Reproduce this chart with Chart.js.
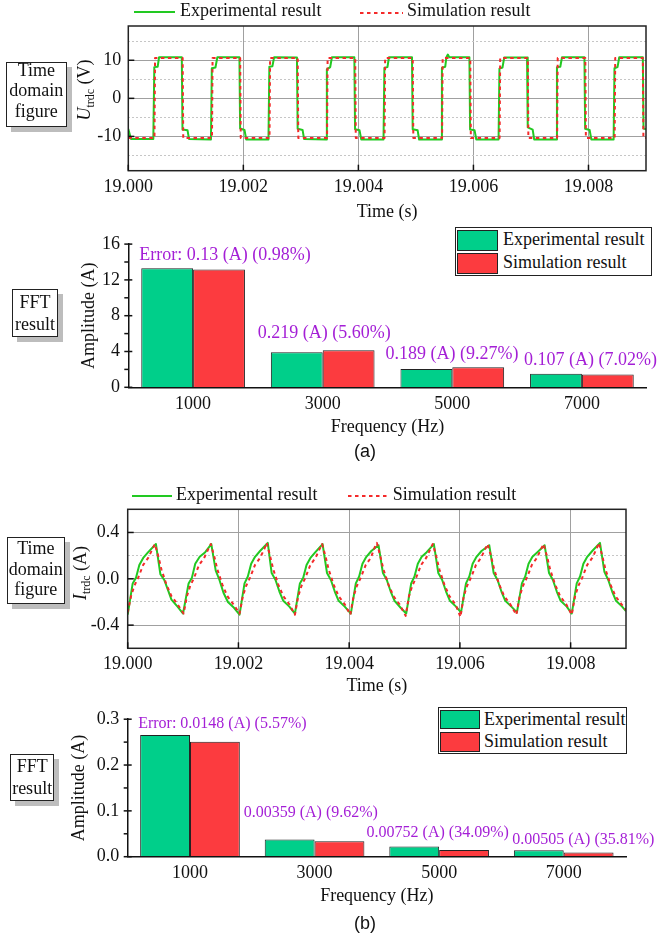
<!DOCTYPE html>
<html>
<head>
<meta charset="utf-8">
<script src="https://cdn.jsdelivr.net/npm/chart.js@4.4.1/dist/chart.umd.min.js"></script>
<style>
  html, body { margin: 0; padding: 0; background: #fff; }
  #page { position: relative; width: 659px; height: 938px; overflow: hidden;
          font-family: "Liberation Serif", "Times New Roman", serif; font-size: 18px; color: #111; }
  canvas { position: absolute; left: 0; }
  .abs { position: absolute; white-space: nowrap; line-height: 20px; }
  .box { position: absolute; box-sizing: border-box; border: 1px solid #222; background: #fff;
         box-shadow: 5px 5px 0 #bdbdbd; text-align: center; }
  .ytitle { position: absolute; white-space: nowrap; line-height: 18px;
            transform: translate(-50%, -50%) rotate(-90deg); }
  .ytitle sub { font-size: 12px; vertical-align: baseline; position: relative; top: 4px; line-height: 0; }
  .leg { position: absolute; box-sizing: border-box; border: 1px solid #222; background: #fff; }
  .sw { position: absolute; box-sizing: border-box; border: 1px solid #222; }
  .tag { position: absolute; font-family: "Liberation Sans", Arial, sans-serif; font-size: 18px;
         line-height: 20px; width: 60px; text-align: center; }
</style>
</head>
<body>
<div id="page">
  <canvas id="cvA" width="659" height="225" style="top:0px"></canvas>
  <canvas id="cvB" width="659" height="225" style="top:225px"></canvas>
  <canvas id="cvC" width="659" height="230" style="top:470px"></canvas>
  <canvas id="cvD" width="659" height="215" style="top:700px"></canvas>
</div>
<script>
const seriesNames = ['Experimental result', 'Simulation result'];
const timeTickLabels = ['19.000', '19.002', '19.004', '19.006', '19.008'];
const voltTickLabels = ['-10', '0', '10'];
const currTickLabels = ['-0.4', '0.0', '0.4'];
const freqLabels = ['1000', '3000', '5000', '7000'];
const ampTickLabelsA = ['0', '4', '8', '12', '16'];
const ampTickLabelsB = ['0.0', '0.1', '0.2', '0.3'];

// (a) U_trdc, time in ms after 19.000 s
const expVTime = [0, 0.047,
  0.435, 0.452, 0.51, 0.535, 0.93, 0.942, 1.03, 1.056,
  1.437, 1.452, 1.515, 1.548, 1.932, 1.944, 2.02, 2.05,
  2.437, 2.452, 2.505, 2.535, 2.932, 2.944, 3.03, 3.056,
  3.437, 3.452, 3.51, 3.54, 3.93, 3.942, 4.02, 4.05,
  4.437, 4.452, 4.505, 4.532, 4.932, 4.944, 5.03, 5.056,
  5.437, 5.452, 5.51, 5.53, 5.555, 5.58, 5.93, 5.942, 6.02, 6.05,
  6.437, 6.452, 6.505, 6.535, 6.932, 6.944, 7.03, 7.056,
  7.437, 7.452, 7.51, 7.54, 7.93, 7.942, 8.02, 8.05,
  8.437, 8.452, 8.505, 8.535, 8.945, 8.957, 9.0];
const expVolt = [-8.05, -10.7,
  -10.7, 8.2, 8.3, 10.8, 10.8, -8.2, -8.4, -10.7,
  -10.8, 7.9, 8.1, 10.8, 10.8, -7.9, -8.3, -10.8,
  -10.8, 8.3, 8.4, 10.8, 10.7, -8.0, -8.3, -10.7,
  -10.8, 7.6, 8.2, 10.8, 10.8, -8.1, -8.4, -10.8,
  -10.8, 8.0, 8.2, 10.8, 10.8, -8.1, -8.4, -10.8,
  -10.8, 8.0, 8.3, 10.8, 11.5, 10.8, 10.8, -8.2, -8.4, -10.8,
  -10.8, 7.8, 8.1, 10.7, 10.7, -7.6, -8.2, -10.8,
  -10.8, 8.2, 8.3, 10.8, 10.8, -8.0, -8.3, -10.8,
  -10.8, 7.9, 8.2, 10.8, 10.8, -7.9, -8.1];
const simVTime = [0,
  0.455, 0.465, 0.945, 0.955, 1.455, 1.465, 1.945, 1.955,
  2.455, 2.465, 2.945, 2.955, 3.455, 3.465, 3.945, 3.955,
  4.455, 4.465, 4.945, 4.955, 5.455, 5.465, 5.945, 5.955,
  6.455, 6.465, 6.945, 6.955, 7.455, 7.465, 7.945, 7.955,
  8.455, 8.465, 8.945, 8.955, 9.0];
const simVolt = [-10.4,
  -10.4, 10.6, 10.6, -10.4, -10.4, 10.6, 10.6, -10.4,
  -10.4, 10.6, 10.6, -10.4, -10.4, 10.6, 10.6, -10.4,
  -10.4, 10.6, 10.6, -10.4, -10.4, 10.6, 10.6, -10.4,
  -10.4, 10.6, 10.6, -10.4, -10.4, 10.6, 10.6, -10.4,
  -10.4, 10.6, 10.6, -10.4, -10.4];

// (a) FFT amplitudes
const fftExpA = [13.30, 3.91, 2.04, 1.52];
const fftSimA = [13.17, 4.13, 2.23, 1.42];
const errTextA = ['Error: 0.13 (A) (0.98%)', '0.219 (A) (5.60%)', '0.189 (A) (9.27%)', '0.107 (A) (7.02%)'];

// (b) I_trdc, time in ms after 19.000 s
const expITime = [
  0.00, 0.09, 0.15, 0.21, 0.28, 0.37, 0.51, 0.59, 0.66, 0.73, 0.79, 0.90,
  1.00, 1.10, 1.16, 1.22, 1.30, 1.40, 1.51, 1.59, 1.65, 1.73, 1.81, 1.92,
  2.02, 2.11, 2.17, 2.23, 2.30, 2.39, 2.53, 2.60, 2.67, 2.74, 2.81, 2.92,
  3.02, 3.11, 3.17, 3.23, 3.30, 3.39, 3.52, 3.60, 3.67, 3.74, 3.81, 3.92,
  4.03, 4.12, 4.18, 4.24, 4.31, 4.40, 4.53, 4.61, 4.68, 4.75, 4.82, 4.93,
  5.03, 5.12, 5.18, 5.24, 5.31, 5.40, 5.53, 5.61, 5.68, 5.75, 5.82, 5.93,
  6.02, 6.11, 6.17, 6.23, 6.30, 6.39, 6.53, 6.61, 6.68, 6.75, 6.82, 6.93,
  7.03, 7.12, 7.18, 7.24, 7.31, 7.40, 7.53, 7.61, 7.68, 7.75, 7.82, 7.93,
  8.02, 8.11, 8.17, 8.23, 8.30, 8.39, 8.53, 8.61, 8.68, 8.75, 8.82, 8.93, 9.00];
const expCurr = [
  -0.31, -0.04, 0.01, 0.12, 0.18, 0.23, 0.30, 0.04, -0.01, -0.10, -0.18, -0.24,
  -0.30, -0.04, 0.01, 0.13, 0.19, 0.23, 0.30, 0.07, 0.00, -0.12, -0.20, -0.25,
  -0.31, -0.04, 0.02, 0.13, 0.19, 0.24, 0.31, 0.05, -0.01, -0.11, -0.19, -0.24,
  -0.30, -0.04, 0.01, 0.12, 0.18, 0.23, 0.30, 0.05, -0.01, -0.11, -0.19, -0.24,
  -0.30, -0.04, 0.02, 0.13, 0.19, 0.24, 0.29, 0.05, -0.01, -0.11, -0.19, -0.25,
  -0.30, -0.04, 0.02, 0.13, 0.19, 0.23, 0.30, 0.05, -0.01, -0.11, -0.19, -0.24,
  -0.29, -0.04, 0.02, 0.13, 0.19, 0.24, 0.29, 0.05, -0.01, -0.11, -0.19, -0.24,
  -0.29, -0.04, 0.02, 0.13, 0.19, 0.23, 0.29, 0.05, -0.01, -0.11, -0.19, -0.24,
  -0.30, -0.04, 0.02, 0.13, 0.19, 0.24, 0.31, 0.06, -0.01, -0.11, -0.19, -0.24, -0.28];
const simITime = [
  0.00, 0.06, 0.12, 0.19, 0.28, 0.37, 0.45, 0.49, 0.55, 0.61, 0.70, 0.79, 0.90,
  1.01, 1.07, 1.13, 1.20, 1.29, 1.38, 1.46, 1.50, 1.56, 1.62, 1.71, 1.80, 1.91,
  2.02, 2.08, 2.14, 2.21, 2.30, 2.39, 2.47, 2.51, 2.57, 2.63, 2.72, 2.81, 2.92,
  3.02, 3.08, 3.14, 3.21, 3.30, 3.39, 3.47, 3.51, 3.57, 3.63, 3.72, 3.81, 3.92,
  4.02, 4.08, 4.14, 4.21, 4.30, 4.39, 4.46, 4.50, 4.56, 4.62, 4.71, 4.80, 4.91,
  5.02, 5.08, 5.14, 5.21, 5.30, 5.39, 5.47, 5.51, 5.57, 5.63, 5.72, 5.81, 5.92,
  6.01, 6.07, 6.13, 6.20, 6.29, 6.38, 6.46, 6.50, 6.56, 6.62, 6.71, 6.80, 6.91,
  7.02, 7.08, 7.14, 7.21, 7.30, 7.39, 7.47, 7.51, 7.57, 7.63, 7.72, 7.81, 7.92,
  8.02, 8.08, 8.14, 8.21, 8.30, 8.39, 8.47, 8.51, 8.57, 8.63, 8.72, 8.81, 8.92, 9.00];
const simCurr = [
  -0.29, -0.15, -0.06, 0.01, 0.12, 0.18, 0.26, 0.30, 0.20, 0.08, -0.05, -0.15, -0.22,
  -0.30, -0.15, -0.06, 0.01, 0.12, 0.18, 0.26, 0.30, 0.20, 0.08, -0.05, -0.15, -0.22,
  -0.30, -0.15, -0.06, 0.01, 0.12, 0.18, 0.26, 0.31, 0.20, 0.08, -0.05, -0.15, -0.22,
  -0.31, -0.15, -0.06, 0.01, 0.12, 0.18, 0.26, 0.30, 0.20, 0.08, -0.05, -0.15, -0.22,
  -0.31, -0.15, -0.06, 0.01, 0.12, 0.18, 0.27, 0.31, 0.20, 0.08, -0.05, -0.15, -0.22,
  -0.32, -0.15, -0.06, 0.01, 0.12, 0.18, 0.26, 0.30, 0.20, 0.08, -0.05, -0.15, -0.22,
  -0.33, -0.15, -0.06, 0.01, 0.12, 0.18, 0.26, 0.30, 0.20, 0.08, -0.05, -0.15, -0.22,
  -0.31, -0.15, -0.06, 0.01, 0.12, 0.18, 0.26, 0.30, 0.20, 0.08, -0.05, -0.15, -0.22,
  -0.31, -0.15, -0.06, 0.01, 0.12, 0.18, 0.26, 0.31, 0.20, 0.08, -0.05, -0.15, -0.22, -0.27];

// (b) FFT amplitudes
const fftExpB = [0.2657, 0.0373, 0.0221, 0.0141];
const fftSimB = [0.2509, 0.0337, 0.0146, 0.0091];
const errTextB = ['Error: 0.0148 (A) (5.57%)', '0.00359 (A) (9.62%)', '0.00752 (A) (34.09%)', '0.00505 (A) (35.81%)'];

const lineGreen = '#22c922';
const lineRed = '#f42a2a';
const barGreen = '#00cf8a';
const barRed = '#fc3b3f';
const noteColor = '#a41fd6';
const gridMajor = '#a0a0a0';
const gridMinor = '#c6c6c6';

Chart.defaults.font.family = '"Liberation Serif", "Times New Roman", serif';
Chart.defaults.font.size = 18;
Chart.defaults.color = '#111';
Chart.defaults.animation = false;
Chart.defaults.responsive = false;
Chart.defaults.plugins.legend.display = false;
Chart.defaults.plugins.tooltip.enabled = false;

// box round the plot area
const frame = {
  id: 'frame',
  afterDatasetsDraw(chart, args, o) {
    if (!o.show) return;
    const {ctx, chartArea: a} = chart;
    ctx.save();
    ctx.strokeStyle = '#222';
    ctx.lineWidth = 1.5;
    ctx.strokeRect(a.left, a.top, a.right - a.left, a.bottom - a.top);
    ctx.restore();
  }
};

// tick marks: [major in, major out, minor in, minor out]
const tickMarks = {
  id: 'tickMarks',
  afterDraw(chart, args, o) {
    const {ctx, chartArea: a} = chart;
    ctx.save();
    ctx.strokeStyle = '#111';
    ctx.lineWidth = 1.5;
    ['x', 'y'].forEach(id => {
      const len = o[id];
      if (!len) return;
      const s = chart.scales[id];
      s.ticks.forEach((t, i) => {
        const major = t.label !== '';
        const inL = major ? len[0] : len[2];
        const outL = major ? len[1] : len[3];
        if (!inL && !outL) return;
        const p = s.getPixelForTick(i);
        ctx.beginPath();
        if (id === 'x') { ctx.moveTo(p, a.bottom + outL); ctx.lineTo(p, a.bottom - inL); }
        else { ctx.moveTo(a.left - outL, p); ctx.lineTo(a.left + inL, p); }
        ctx.stroke();
      });
    });
    ctx.restore();
  }
};

// error texts above each pair of bars
const barNotes = {
  id: 'barNotes',
  afterDatasetsDraw(chart, args, o) {
    if (!o.texts) return;
    const {ctx} = chart;
    const m0 = chart.getDatasetMeta(0), m1 = chart.getDatasetMeta(1);
    ctx.save();
    ctx.font = o.size + 'px "Liberation Serif", "Times New Roman", serif';
    ctx.fillStyle = noteColor;
    ctx.textAlign = 'left';
    ctx.textBaseline = 'middle';
    o.texts.forEach((txt, i) => {
      const b0 = m0.data[i], b1 = m1.data[i];
      ctx.fillText(txt, b0.x - b0.width / 2 + o.dx[i], Math.min(b0.y, b1.y) + o.dy[i]);
    });
    ctx.restore();
  }
};

Chart.register(frame, tickMarks, barNotes);

const pts = (ts, vs) => ts.map((t, i) => ({x: t, y: vs[i]}));
const tenths = (labels) => v => {
  const r = Math.round(v * 10);
  const l = (r / 10).toFixed(1);
  return Math.abs(v * 10 - r) < 1e-6 && labels.includes(l) ? l : '';
};

function timeChart(id, expSet, simSet, c) {
  return new Chart(document.getElementById(id), {
    type: 'line',
    data: {
      datasets: [
        {label: seriesNames[0], data: expSet, borderColor: lineGreen, borderWidth: 2, order: 1},
        {label: seriesNames[1], data: simSet, borderColor: lineRed, borderWidth: 2, borderDash: [3.5, 3.5], order: 0}
      ]
    },
    options: {
      devicePixelRatio: 1,
      layout: {padding: c.pad},
      elements: {point: {radius: 0}, line: {tension: 0, borderJoinStyle: 'round'}},
      plugins: {frame: {show: true}, tickMarks: {x: [6, 0, 0, 0], y: [6, 0, 0, 0]}},
      scales: {
        x: {
          type: 'linear', min: 0, max: 9,
          afterFit: s => { s.height = c.xh; },
          ticks: {stepSize: 2, includeBounds: false, padding: c.xpad, maxRotation: 0, autoSkip: false,
                  callback: (v, i) => timeTickLabels[i]},
          grid: {color: gridMajor, drawTicks: false},
          border: {display: false},
          title: {display: true, text: 'Time (s)', padding: {top: 0, bottom: c.xtb}}
        },
        y: {
          min: c.ymin, max: c.ymax,
          afterFit: s => { s.width = c.yw; },
          ticks: {stepSize: c.step, includeBounds: false, autoSkip: false, padding: c.ypad, callback: c.label},
          grid: {drawTicks: false, color: g => (g.tick && g.tick.label !== '') ? gridMajor : gridMinor},
          border: {display: false, dash: g => (g.tick && g.tick.label === '') ? [2, 2] : []}
        }
      }
    }
  });
}

function fftChart(id, exp, sim, c) {
  return new Chart(document.getElementById(id), {
    type: 'bar',
    data: {
      labels: freqLabels,
      datasets: [
        {label: seriesNames[0], data: exp, backgroundColor: barGreen, borderColor: '#222', borderWidth: 1},
        {label: seriesNames[1], data: sim, backgroundColor: barRed, borderColor: '#222', borderWidth: 1}
      ]
    },
    options: {
      devicePixelRatio: 1,
      layout: {padding: c.pad},
      datasets: {bar: {categoryPercentage: 0.8, barPercentage: 1}},
      plugins: {
        tickMarks: {y: [4, 4, 0, 4]},
        barNotes: {texts: c.texts, size: c.noteSize, dx: c.dx, dy: c.dy}
      },
      scales: {
        x: {
          afterFit: s => { s.height = c.xh; },
          ticks: {padding: c.xpad, maxRotation: 0, autoSkip: false},
          grid: {display: false, drawTicks: false},
          border: {display: true, color: '#111', width: 1.5, z: 1},
          title: {display: true, text: 'Frequency (Hz)', padding: {top: 0, bottom: c.xtb}}
        },
        y: {
          min: 0, max: c.ymax,
          afterFit: s => { s.width = c.yw; },
          ticks: {stepSize: c.step, autoSkip: false, padding: c.ypad, callback: c.label},
          grid: {display: false, drawTicks: false},
          border: {display: true, color: '#111', width: 1.5, z: 1},
          title: {display: true, text: 'Amplitude (A)', padding: {top: c.ytp, bottom: 0}}
        }
      }
    }
  });
}

const chartA = timeChart('cvA', pts(expVTime, expVolt), pts(simVTime, simVolt), {
  pad: {left: 0, right: 13, top: 26, bottom: 0}, xh: 54.3, yw: 128.3, xpad: 6, ypad: 7, xtb: 2.2,
  ymin: -19, ymax: 19, step: 5, label: v => voltTickLabels.includes(String(v)) ? String(v) : ''
});
const chartB = fftChart('cvB', fftExpA, fftSimA, {
  pad: {left: 0, right: 12.3, top: 18.3, bottom: 0}, xh: 62.7, yw: 128.3, xpad: 6.4, ypad: 8.3, xtb: 11.6, ytp: 78.2,
  ymax: 16, step: 2, label: v => ampTickLabelsA.includes(String(v)) ? String(v) : '',
  texts: errTextA, noteSize: 18, dx: [-2, -13, -15, -6], dy: [-12.7, -16.7, -13.3, -13]
});
const chartC = timeChart('cvC', pts(expITime, expCurr), pts(simITime, simCurr), {
  pad: {left: 0, right: 33, top: 39.3, bottom: 0}, xh: 51.7, yw: 127.7, xpad: 5.6, ypad: 8.4, xtb: 3.3,
  ymin: -0.6, ymax: 0.6, step: 0.2, label: tenths(currTickLabels)
});
const chartD = fftChart('cvD', fftExpB, fftSimB, {
  pad: {left: 0, right: 33, top: 18.3, bottom: 0}, xh: 58.3, yw: 127.7, xpad: 5.8, ypad: 8.4, xtb: 8.3, ytp: 68.2,
  ymax: 0.3, step: 0.05, label: tenths(ampTickLabelsB),
  texts: errTextB, noteSize: 16, dx: [-2, -21, -22.7, -1.7], dy: [-10.8, -27, -13.7, -10.7]
});

// ---- html overlays (legends, rotated titles, side boxes) ----
const page = document.getElementById('page');
function el(tag, cls, style, html) {
  const e = document.createElement(tag);
  if (cls) e.className = cls;
  e.setAttribute('style', style);
  if (html !== undefined) e.innerHTML = html;
  page.appendChild(e);
  return e;
}

// line legends: spots = [[lineX, lineY, lineW, textX, textTop], ...]
function lineLegend(chart, spots) {
  chart.data.datasets.forEach((ds, i) => {
    const [lx, ly, lw, tx, ty] = spots[i];
    const dash = ds.borderDash ? ' stroke-dasharray="' + ds.borderDash.join(' ') + '"' : '';
    el('div', 'abs', 'left:' + lx + 'px;top:' + (ly - 2) + 'px;line-height:0',
      '<svg width="' + lw + '" height="4"><line x1="0" y1="2" x2="' + lw + '" y2="2" stroke="' +
      ds.borderColor + '" stroke-width="2"' + dash + '/></svg>');
    el('div', 'abs', 'left:' + tx + 'px;top:' + ty + 'px', ds.label);
  });
}
lineLegend(chartA, [[134, 10, 41, 180, 0], [360, 11, 43, 407, 0]]);
lineLegend(chartC, [[131.7, 494.3, 40, 176, 484], [348.3, 494.3, 42, 392.7, 484]]);

// box legends: [left, top, width, height, swatchX, swatchY, swatchW, swatchH, pitch, textX, textTops]
function boxLegend(chart, g) {
  const box = el('div', 'leg', 'left:' + g[0] + 'px;top:' + g[1] + 'px;width:' + g[2] + 'px;height:' + g[3] + 'px');
  chart.data.datasets.forEach((ds, i) => {
    const s = document.createElement('div');
    s.className = 'sw';
    s.setAttribute('style', 'left:' + g[4] + 'px;top:' + (g[5] + i * g[8]) + 'px;width:' + g[6] +
      'px;height:' + g[7] + 'px;background:' + ds.backgroundColor);
    box.appendChild(s);
    const t = document.createElement('div');
    t.className = 'abs';
    t.setAttribute('style', 'left:' + g[9] + 'px;top:' + g[10][i] + 'px');
    t.textContent = ds.label;
    box.appendChild(t);
  });
}
boxLegend(chartB, [455, 227.3, 196.7, 48.7, 0.7, 1.7, 41.6, 20.7, 23.3, 47, [0.8, 24.2]]);
boxLegend(chartD, [437.7, 707.3, 189, 46.7, 1.3, 1.7, 40, 19.3, 22.3, 45.3, [0.8, 22.5]]);

// y titles with subscript
el('div', 'ytitle', 'left:84.2px;top:90px', '<i>U</i><sub>trdc</sub> (V)');
el('div', 'ytitle', 'left:79.9px;top:572.5px', '<i>I</i><sub>trdc</sub> (A)');

// side label boxes
el('div', 'box', 'left:6px;top:61.7px;width:60.7px;height:65.6px',
  '<div style="line-height:20.6px;margin-top:-3px">Time<br>domain<br>figure</div>');
el('div', 'box', 'left:6.7px;top:536.7px;width:58.3px;height:67.6px',
  '<div style="line-height:20.7px;margin-top:0.3px">Time<br>domain<br>figure</div>');
el('div', 'box', 'left:11.7px;top:289.3px;width:46.6px;height:48px',
  '<div style="line-height:22.4px;margin-top:0.7px">FFT<br>result</div>');
el('div', 'box', 'left:10px;top:754.3px;width:44.3px;height:46.7px',
  '<div style="line-height:21.7px;margin-top:1.1px">FFT<br>result</div>');

// panel tags
el('div', 'tag', 'left:335px;top:440.8px', '(a)');
el('div', 'tag', 'left:335px;top:912.5px', '(b)');
</script>
</body>
</html>
